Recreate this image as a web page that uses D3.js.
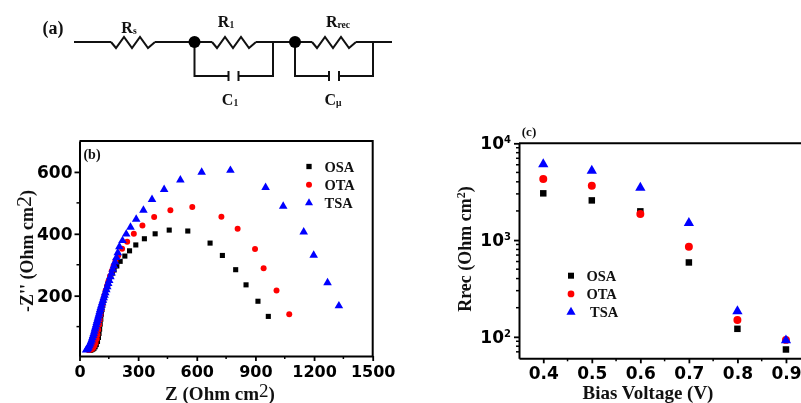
<!DOCTYPE html>
<html>
<head>
<meta charset="utf-8">
<script src="https://cdn.jsdelivr.net/npm/d3@7"></script>
<style>
  html, body { margin: 0; padding: 0; background: #fff; overflow: hidden; }
  svg { display: block; filter: blur(0.35px); }
  .serif { font-family: "Liberation Serif", serif; font-weight: bold; fill: #111; }
  .tick text { font-family: "DejaVu Sans", sans-serif; font-weight: bold; fill: #000; }
</style>
</head>
<body>
<script>
// panel (b) Nyquist points, Z then -Z''
var osaZ = [50,56,62,68,74,80,86,92,97,100,103,106,109,112,115,119,123,128,133,139,145,152,160,168,177,191,208,232,256,288,332,387,459,554,668,731,799,852,913,966];
var osaY = [24,24,25,27,30,35,42,52,65,78,92,108,124,140,155,170,184,198,211,224,237,250,262,273,283,296,311,328,345,364,384,400,412,409,370,330,284,235,182,133];
var otaZ = [46,52,58,64,70,76,82,88,92,96,100,104,108,112,117,122,128,134,141,148,156,165,174,184,198,218,244,278,322,382,465,577,726,809,898,942,1008,1073];
var otaY = [24,25,26,28,32,38,47,60,74,90,106,122,138,154,170,186,202,217,232,247,263,280,296,312,330,352,374,400,427,454,476,487,455,416,351,289,217,140];
var tsaZ = [34,38,42,46,50,54,58,62,66,70,73,76,79,82,85,88,91,94,97,100,103,106,109,112,116,120,124,128,132,137,142,147,152,158,164,170,176,182,189,196,204,220,239,261,290,327,371,433,516,625,772,952,1042,1147,1198,1269,1327];
var tsaY = [24,26,29,33,38,44,50,57,64,71,78,85,92,99,106,113,120,127,134,141,148,155,162,169,177,185,193,201,209,219,229,239,249,261,273,285,297,309,323,339,358,378,399,421,447,476,511,543,574,599,605,550,489,406,331,242,167];

// panel (c) recombination resistance against bias
var biasV = [0.4,0.5,0.6,0.7,0.8,0.9];
var osaR = [3040,2570,1980,587,121,74];
var otaR = [4275,3650,1858,853,149,93];
var tsaR = [6070,5210,3475,1500,184,92];

var seriesNames = ["OSA","OTA","TSA"];
var seriesColors = ["#000000","#ff0000","#0000ff"];
var seriesSymbols = [d3.symbolSquare, d3.symbolCircle, d3.symbolTriangle];

var nyquistXTicks = [0,300,600,900,1200,1500];
var nyquistXMinor = [150,450,750,1050,1350];
var nyquistYTicks = [200,400,600];
var nyquistYMinor = [100,300,500];
var biasTicks = [0.4,0.5,0.6,0.7,0.8,0.9];
var biasMinor = [0.45,0.55,0.65,0.75,0.85];
var rrecTicks = [100,1000,10000];
var rrecMinor = [70,80,90,200,300,400,500,600,700,800,900,2000,3000,4000,5000,6000,7000,8000,9000];

var svg = d3.select("body").append("svg")
  .attr("width", 801)
  .attr("height", 403);

// small helper for serif labels
function label(x, y, size, txt, anchor) {
  return svg.append("text")
    .attr("class", "serif")
    .attr("x", x)
    .attr("y", y)
    .attr("font-size", size)
    .attr("text-anchor", anchor || "middle")
    .text(txt);
}

function subLabel(x, y, size, main, sub) {
  var t = label(x, y, size, main);
  t.append("tspan").attr("font-size", size * 0.6).attr("dy", 1).text(sub);
}

// draw one marker series
function drawSeries(g, xs, ys, x, y, index, area) {
  g.selectAll("path.s" + index)
    .data(xs)
    .enter().append("path")
    .attr("class", "s" + index)
    .attr("d", d3.symbol().type(seriesSymbols[index]).size(area))
    .attr("fill", seriesColors[index])
    .attr("transform", function(d, i) {
      return "translate(" + x(d) + "," + y(ys[i]) + ")";
    });
}

function minorTicks(g, values, scale, side, length, offset) {
  g.selectAll("line.minor" + side)
    .data(values)
    .enter().append("line")
    .attr("class", "minor" + side)
    .attr("stroke", "#000")
    .attr("stroke-width", 1.5)
    .attr("x1", function(d) { return side == "y" ? offset : scale(d); })
    .attr("x2", function(d) { return side == "y" ? offset - length : scale(d); })
    .attr("y1", function(d) { return side == "y" ? scale(d) : offset; })
    .attr("y2", function(d) { return side == "y" ? scale(d) : offset + length; });
}

function styleAxis(g, size) {
  g.selectAll(".domain").attr("stroke-width", 2).attr("stroke", "#000");
  g.selectAll(".tick line").attr("stroke-width", 1.8).attr("stroke", "#000");
  g.selectAll(".tick text").attr("font-size", size).attr("font-family", null);
}

// ---- (a) equivalent circuit ----
var wire = svg.append("g")
  .attr("fill", "none")
  .attr("stroke", "#111")
  .attr("stroke-width", 2);

var wireY = 42, loopY = 76;

function resistor(x0) {
  var pts = [[x0,0],[x0+5,6],[x0+13,-5],[x0+21,6],[x0+29,-5],[x0+37,6],[x0+44,0]];
  wire.append("path").attr("d", d3.line().x(function(p) { return p[0]; }).y(function(p) { return wireY + p[1]; })(pts));
}

function hline(x1, x2, y) {
  wire.append("line").attr("x1", x1).attr("x2", x2).attr("y1", y).attr("y2", y);
}

function vline(x, y1, y2) {
  wire.append("line").attr("x1", x).attr("x2", x).attr("y1", y1).attr("y2", y2);
}

hline(74, 111, wireY);
resistor(111);
hline(155, 212, wireY);
resistor(212);
hline(256, 312, wireY);
resistor(312);
hline(356, 392, wireY);

[[194.5, 273], [295, 373]].forEach(function(loop) {
  vline(loop[0], wireY, loopY + 1);
  vline(loop[1], wireY, loopY + 1);
  hline(loop[0], loop[0] + 34, loopY);
  hline(loop[0] + 44, loop[1], loopY);
  vline(loop[0] + 34, loopY - 5, loopY + 5);
  vline(loop[0] + 44, loopY - 5, loopY + 5);
  svg.append("circle").attr("cx", loop[0]).attr("cy", wireY).attr("r", 6).attr("fill", "#000");
});

label(53, 34, 18, "(a)");
subLabel(129, 33, 16, "R", "s");
subLabel(226, 27, 16, "R", "1");
subLabel(338, 27, 16, "R", "rec");
subLabel(230, 105, 16, "C", "1");
subLabel(333, 105, 16, "C", "\u03bc");

// ---- (b) Nyquist plot ----
var xB = d3.scaleLinear().domain([0, 1500]).range([79.5, 372.7]);
var yB = d3.scaleLinear().domain([5, 700]).range([356, 141]);

var gB = svg.append("g");

drawSeries(gB, osaZ, osaY, xB, yB, 0, 26);
drawSeries(gB, otaZ, otaY, xB, yB, 1, 28);
drawSeries(gB, tsaZ, tsaY, xB, yB, 2, 32);

var xAxisB = gB.append("g")
  .attr("transform", "translate(0,356)")
  .call(d3.axisBottom(xB).tickValues(nyquistXTicks).tickFormat(d3.format("d")).tickSize(5).tickPadding(5).tickSizeOuter(0));
styleAxis(xAxisB, 16);
minorTicks(gB, nyquistXMinor, xB, "x", 3, 356);

var yAxisB = gB.append("g")
  .attr("transform", "translate(79.5,0)")
  .call(d3.axisLeft(yB).tickValues(nyquistYTicks).tickSize(5).tickPadding(2).tickSizeOuter(0));
styleAxis(yAxisB, 17);
minorTicks(gB, nyquistYMinor, yB, "y", 3, 79.5);

// top and right edge of the frame
gB.append("path")
  .attr("d", d3.line()([[xB(0), yB(700)], [xB(1500), yB(700)], [xB(1500), yB(5)]]))
  .attr("fill", "none")
  .attr("stroke", "#000")
  .attr("stroke-width", 2);

label(92, 159, 14, "(b)");

seriesNames.forEach(function(name, i) {
  var ly = 166.5 + i * 18.2;
  gB.append("path")
    .attr("d", d3.symbol().type(seriesSymbols[i]).size(28))
    .attr("fill", seriesColors[i])
    .attr("transform", "translate(309," + ly + ")");
  label(324.5, ly + 5, 14.5, name, "start");
});

var titleB = label(220, 400, 19, "Z (Ohm cm");
titleB.append("tspan").attr("font-size", 19).attr("dy", -3).attr("font-weight", "normal").text("2");
titleB.append("tspan").attr("dy", 3).text(")");

var titleBy = label(0, 0, 18, "-Z'' (Ohm cm")
  .attr("transform", "translate(33,251) rotate(-90)");
titleBy.append("tspan").attr("font-size", 22).attr("dy", -2).attr("font-weight", "normal").text("2");
titleBy.append("tspan").attr("dy", 2).text(")");

// ---- (c) Rrec against bias ----
var xC = d3.scaleLinear().domain([0.35, 0.931]).range([519, 801]);
var yC = d3.scaleLog().domain([60, 10000]).range([358.3, 143.3]);

var gC = svg.append("g");

drawSeries(gC, biasV, osaR, xC, yC, 0, 42);
drawSeries(gC, biasV, otaR, xC, yC, 1, 50);
drawSeries(gC, biasV, tsaR, xC, yC, 2, 46);

var xAxisC = gC.append("g")
  .attr("transform", "translate(0,358.3)")
  .call(d3.axisBottom(xC).tickValues(biasTicks).tickFormat(d3.format(".1f")).tickSize(5).tickPadding(4).tickSizeOuter(0));
styleAxis(xAxisC, 17);
minorTicks(gC, biasMinor, xC, "x", 3, 358.3);

var yAxisC = gC.append("g")
  .attr("transform", "translate(519,0)")
  .call(d3.axisLeft(yC).tickValues(rrecTicks).tickSize(5).tickPadding(3).tickSizeOuter(0));
styleAxis(yAxisC, 17);
yAxisC.selectAll(".tick text").each(function(d) {
  var t = d3.select(this).text("10");
  t.append("tspan")
    .attr("font-size", 10)
    .attr("dy", -6)
    .text(Math.round(Math.log10(d)));
});
minorTicks(gC, rrecMinor, yC, "y", 3, 519);

gC.append("line")
  .attr("x1", 519)
  .attr("x2", 801)
  .attr("y1", yC(10000))
  .attr("y2", yC(10000))
  .attr("stroke", "#000")
  .attr("stroke-width", 2);

label(529, 136, 13, "(c)");

seriesNames.forEach(function(name, i) {
  var ly = 275.7 + i * 18.2;
  gC.append("path")
    .attr("d", d3.symbol().type(seriesSymbols[i]).size(36))
    .attr("fill", seriesColors[i])
    .attr("transform", "translate(571," + ly + ")");
  label(i == 2 ? 590 : 586.5, ly + 5, 14.5, name, "start");
});

label(648, 399, 19, "Bias Voltage (V)");

var titleC = label(0, 0, 18, "R")
  .attr("transform", "translate(471,249) rotate(-90)");
titleC.append("tspan").text("rec (Ohm cm");
titleC.append("tspan").attr("font-size", 12).attr("dy", -6).text("2");
titleC.append("tspan").attr("dy", 6).text(")");
</script>
</body>
</html>
